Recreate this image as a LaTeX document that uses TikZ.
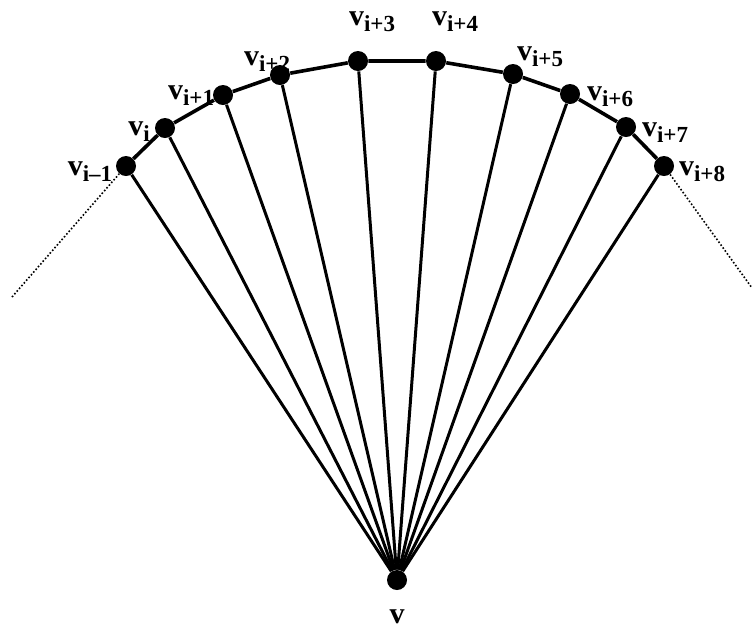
\documentclass[tikz,border=0pt]{standalone}
\usepackage{fontspec}
\setmainfont{Liberation Serif}
\newcommand{\vsub}[1]{v\raisebox{-0.45ex}{\fontsize{11.5}{12}\selectfont #1}}
\begin{document}
\begin{tikzpicture}[x=0.5pt,y=-0.5pt,
  vtx/.style={circle,fill=black,inner sep=0pt,minimum size=10pt},
  lbl/.style={font=\fontsize{15}{17}\selectfont\bfseries,inner sep=0pt}]
\useasboundingbox (0,0) rectangle (753,629);
% vertices
\node[vtx] (v) at (397,580) {};
\node[vtx] (a0) at (126,166) {};
\node[vtx] (a1) at (165,128) {};
\node[vtx] (a2) at (223,95) {};
\node[vtx] (a3) at (280,75) {};
\node[vtx] (a4) at (358,61) {};
\node[vtx] (a5) at (436,61) {};
\node[vtx] (a6) at (513,74) {};
\node[vtx] (a7) at (570,94) {};
\node[vtx] (a8) at (626,127) {};
\node[vtx] (a9) at (664,166) {};
\coordinate (lend) at (12,297);
\coordinate (rend) at (752,288);
% chain and fan
\draw[line width=1.8pt] (a0) -- (a1) -- (a2) -- (a3) -- (a4) -- (a5) -- (a6) -- (a7) -- (a8) -- (a9);
\foreach \n in {a0,a1,a2,a3,a4,a5,a6,a7,a8,a9}
  \draw[line width=1.5pt] (v) -- (\n);
\draw[densely dotted,line width=0.8pt] (lend) -- (a0);
\draw[densely dotted,line width=0.8pt] (a9) -- (rend);
% labels
\node[lbl] (t0) at (90,172) {\vsub{i–1}};
\node[lbl] (t1) at (139,132) {\vsub{i}};
\node[lbl] (t2) at (191,96) {\vsub{i+1}};
\node[lbl] (t3) at (267,62) {\vsub{i+2}};
\node[lbl] (t4) at (372,22) {\vsub{i+3}};
\node[lbl] (t5) at (455,22) {\vsub{i+4}};
\node[lbl] (t6) at (540,57) {\vsub{i+5}};
\node[lbl] (t7) at (610,97) {\vsub{i+6}};
\node[lbl] (t8) at (665,133) {\vsub{i+7}};
\node[lbl] (t9) at (702,172) {\vsub{i+8}};
\node[lbl] (tv) at (397,617) {v};
\end{tikzpicture}
\end{document}
